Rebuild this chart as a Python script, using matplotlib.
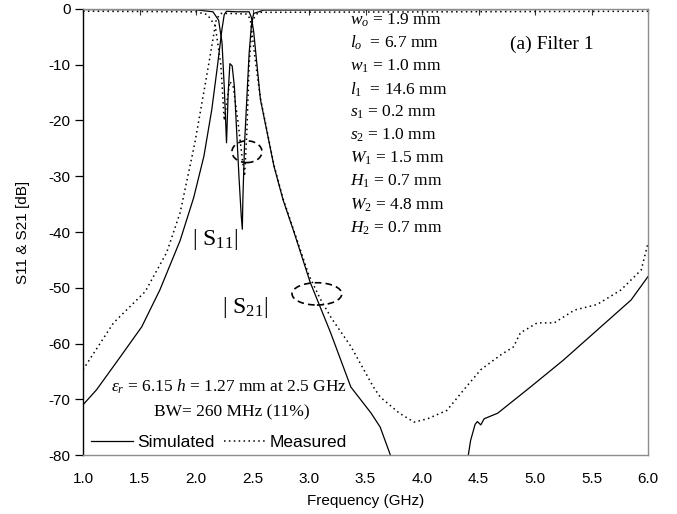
import matplotlib
matplotlib.use('Agg')
import matplotlib.pyplot as plt
from matplotlib.patches import Ellipse
from matplotlib.lines import Line2D

plt.rcParams['font.family'] = ['Liberation Sans', 'DejaVu Sans']
plt.rcParams['mathtext.fontset'] = 'custom'
plt.rcParams['mathtext.rm'] = 'Liberation Serif'
plt.rcParams['mathtext.it'] = 'Liberation Serif:italic'
plt.rcParams['mathtext.bf'] = 'Liberation Serif:bold'

# ---------------- data ----------------
s21_sim_f = [1.0, 1.12, 1.33, 1.52, 1.68, 1.86, 1.98, 2.07, 2.14, 2.19, 2.23, 2.25, 2.27,
             2.35, 2.47, 2.49, 2.51, 2.57, 2.69, 2.77, 2.87, 3.01, 3.10, 3.19, 3.37, 3.55,
             3.63, 3.72, 3.80, 4.00, 4.35, 4.41, 4.43, 4.47, 4.49, 4.52, 4.55, 4.67, 4.96,
             5.25, 5.55, 5.85, 6.0]
s21_sim_db = [-71.0, -68.3, -62.4, -57.0, -50.4, -41.5, -33.8, -26.4, -18.0, -10.2, -3.6, -1.0, -0.4,
              -0.5, -0.5, -1.5, -4.0, -16.2, -28.2, -34.2, -40.2, -49.0, -53.5, -58.0, -67.8, -72.5,
              -75.0, -80.0, -84.0, -95.0, -86.0, -80.0, -77.4, -74.5, -74.0, -74.6, -73.5, -72.5, -67.8,
              -63.0, -57.6, -52.2, -48.0]

s21_meas_f = [1.0, 1.27, 1.55, 1.74, 1.86, 1.99, 2.11, 2.18, 2.22, 2.30, 2.45, 2.48, 2.53,
              2.57, 2.69, 2.77, 2.87, 3.00, 3.10, 3.20, 3.37, 3.57, 3.63, 3.80, 3.93, 4.05,
              4.22, 4.37, 4.52, 4.70, 4.81, 4.87, 5.02, 5.17, 5.35, 5.55, 5.76, 5.94, 6.0]
s21_meas_db = [-64.7, -56.3, -50.7, -43.7, -36.5, -24.0, -10.2, -1.8, -0.8, -0.8, -0.9, -1.8, -10.0,
               -16.0, -28.0, -34.0, -40.0, -47.8, -52.0, -55.5, -60.5, -67.8, -69.6, -72.5, -74.1, -73.5,
               -72.0, -68.3, -64.7, -62.0, -60.6, -58.1, -56.3, -56.3, -54.0, -53.0, -50.4, -46.8, -42.0]

s11_sim_f = [1.0, 2.0, 2.15, 2.20, 2.23, 2.25, 2.27, 2.285, 2.30, 2.32, 2.34, 2.36, 2.38,
             2.40, 2.41, 2.415, 2.43, 2.45, 2.47, 2.49, 2.51, 2.60, 6.0]
s11_sim_db = [-0.1, -0.15, -0.5, -2.0, -6.0, -14.0, -24.0, -15.0, -9.8, -10.2, -14.0, -22.0, -30.0,
              -37.0, -39.5, -34.0, -24.0, -16.0, -8.0, -3.0, -0.8, -0.2, -0.05]

s11_meas_f = [1.0, 2.0, 2.10, 2.17, 2.22, 2.25, 2.27, 2.30, 2.33, 2.37, 2.41, 2.43, 2.45,
              2.47, 2.50, 2.55, 6.0]
s11_meas_db = [-0.4, -0.5, -1.0, -3.0, -10.0, -20.0, -17.0, -13.0, -14.0, -20.0, -27.0, -30.0, -22.0,
               -10.0, -2.0, -0.6, -0.4]

x_ticks = [1.0, 1.5, 2.0, 2.5, 3.0, 3.5, 4.0, 4.5, 5.0, 5.5, 6.0]
y_ticks = [0, -10, -20, -30, -40, -50, -60, -70, -80]

param_lines = [r"$w_o$ = 1.9 mm", r"$l_o$  = 6.7 mm", r"$w_{\mathit{1}}$ = 1.0 mm",
               r"$l_{\mathit{1}}$  = 14.6 mm", r"$s_{\mathit{1}}$ = 0.2 mm", r"$s_2$ = 1.0 mm",
               r"$W_{\mathit{1}}$ = 1.5 mm", r"$H_{\mathit{1}}$ = 0.7 mm", r"$W_2$ = 4.8 mm",
               r"$H_2$ = 0.7 mm"]

# ---------------- figure ----------------
W, H = 677, 514
fig = plt.figure(figsize=(W / 100, H / 100), dpi=100)
ax = fig.add_axes([83 / W, (H - 455) / H, (648 - 83) / W, (455 - 9) / H])

ax.plot(s21_sim_f, s21_sim_db, color='black', lw=0.9, solid_joinstyle='round')
ax.plot(s11_sim_f, s11_sim_db, color='black', lw=0.9, solid_joinstyle='round')
ax.plot(s21_meas_f, s21_meas_db, color='black', lw=1.1, linestyle=(0, (1, 2.2)))
ax.plot(s11_meas_f, s11_meas_db, color='black', lw=1.1, linestyle=(0, (1, 2.2)))

ax.set_xlim(1.0, 6.0)
ax.set_ylim(-80, 0)
ax.set_xticks(x_ticks)
ax.set_xticklabels([f"{v:.1f}" for v in x_ticks])
ax.set_yticks(y_ticks)
ax.set_yticklabels([str(v) for v in y_ticks])
ax.tick_params(axis='x', bottom=False, top=True, direction='in', length=4, width=0.8,
               labelbottom=True, labelsize=11, pad=12, color='#333333')
ax.tick_params(axis='y', direction='out', length=6, width=0.9, labelsize=11, pad=3)
for side in ['top', 'right', 'bottom']:
    ax.spines[side].set_color('#8c8c8c')
    ax.spines[side].set_linewidth(1.0)
ax.spines['left'].set_color('black')
ax.spines['left'].set_linewidth(1.0)

ax.set_xlabel('Frequency (GHz)', fontsize=11, labelpad=6)
ax.set_ylabel('S11 & S21 [dB]', fontsize=11, labelpad=13)

# ellipses
ax.add_patch(Ellipse((2.451, -25.6), 0.266, 3.9, fill=False, ls=(0, (4, 2.5)), lw=1.2, ec='black'))
ax.add_patch(Ellipse((3.07, -51.1), 0.44, 4.0, fill=False, ls=(0, (4, 2.5)), lw=1.2, ec='black'))

serif = ['Liberation Serif', 'DejaVu Serif']

def ftext(px, py, s, **kw):
    fig.text(px / W, 1 - py / H, s, **kw)

for i, s in enumerate(param_lines):
    ftext(350, 20 + 23.1 * i, s, family=serif, fontsize=12.5, va='center', ha='left')

ftext(510, 44, "(a) Filter 1", family=serif, fontsize=14, va='center', ha='left')
ftext(192, 240, r"| S$_{11}$|", family=serif, fontsize=17, va='center', ha='left')
ftext(222, 307, r"| S$_{21}$|", family=serif, fontsize=17, va='center', ha='left')
ftext(111, 387, r"$\varepsilon_r$ = 6.15 $h$ = 1.27 mm at 2.5 GHz", family=serif, fontsize=12.5,
      va='center', ha='left')
ftext(232, 412, "BW= 260 MHz (11%)", family=serif, fontsize=12.5, va='center', ha='center')

handles = [Line2D([], [], color='black', lw=0.9),
           Line2D([], [], color='black', lw=1.1, linestyle=(0, (1, 2.2)))]
leg = fig.legend(handles, ['Simulated', 'Measured'], loc='center left',
                 bbox_to_anchor=(91 / W, 1 - 442 / H), ncol=2, frameon=False, fontsize=12.5,
                 handlelength=2.4, handletextpad=0.25, columnspacing=0.55, borderaxespad=0,
                 borderpad=0)

fig.savefig('out.png', dpi=100)
